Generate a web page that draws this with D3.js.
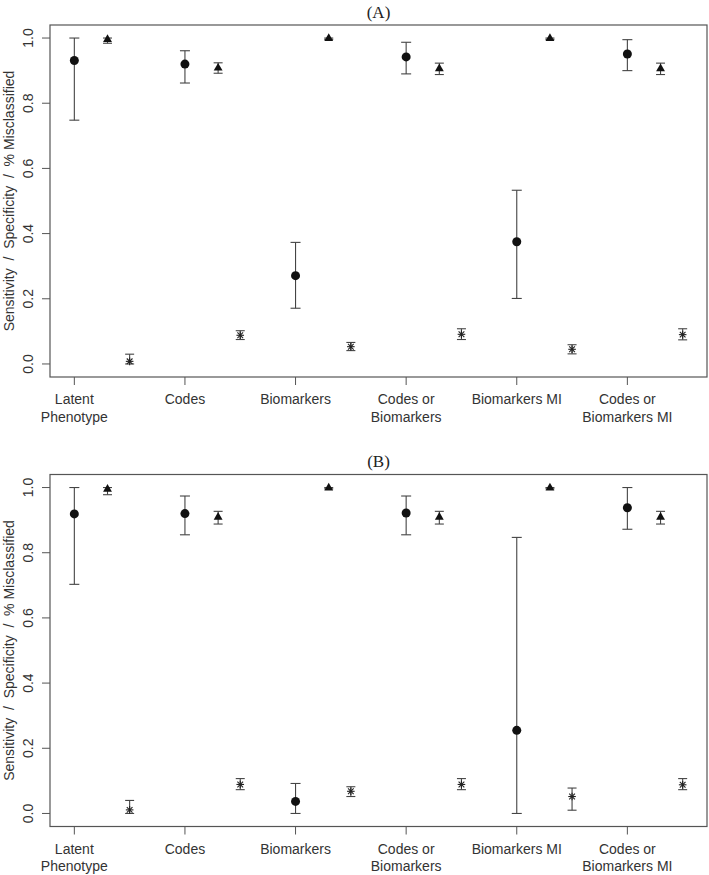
<!DOCTYPE html>
<html>
<head>
<meta charset="utf-8">
<script src="https://cdn.jsdelivr.net/npm/d3@7"></script>
<style>
  html, body { margin: 0; padding: 0; background: #fff; }
  svg { display: block; }
</style>
</head>
<body>
<div id="chart"></div>
<script>
// ---------- data ----------
const categories = [["Latent", "Phenotype"], ["Codes"], ["Biomarkers"], ["Codes or", "Biomarkers"], ["Biomarkers MI"], ["Codes or", "Biomarkers MI"]];
const yTicks = [0.0, 0.2, 0.4, 0.6, 0.8, 1.0];
const panelTitles = ["(A)", "(B)"];

// Panel A
const sensA   = [0.931, 0.920, 0.271, 0.942, 0.375, 0.951];
const sensLoA = [0.748, 0.862, 0.171, 0.890, 0.201, 0.900];
const sensHiA = [1.000, 0.961, 0.373, 0.987, 0.533, 0.995];
const specA   = [0.996, 0.908, 0.999, 0.906, 0.999, 0.906];
const specLoA = [0.984, 0.892, 0.996, 0.888, 0.996, 0.888];
const specHiA = [1.000, 0.924, 1.000, 0.923, 1.000, 0.923];
const miscA   = [0.008, 0.088, 0.053, 0.091, 0.045, 0.090];
const miscLoA = [0.000, 0.075, 0.041, 0.075, 0.031, 0.074];
const miscHiA = [0.030, 0.102, 0.066, 0.108, 0.059, 0.108];

// Panel B
const sensB   = [0.919, 0.920, 0.037, 0.922, 0.255, 0.938];
const sensLoB = [0.703, 0.855, 0.000, 0.855, 0.000, 0.872];
const sensHiB = [1.000, 0.974, 0.092, 0.974, 0.847, 1.000];
const specB   = [0.995, 0.909, 0.999, 0.909, 0.999, 0.909];
const specLoB = [0.978, 0.888, 0.996, 0.888, 0.996, 0.888];
const specHiB = [1.000, 0.927, 1.000, 0.927, 1.000, 0.927];
const miscB   = [0.011, 0.089, 0.068, 0.089, 0.052, 0.088];
const miscLoB = [0.000, 0.073, 0.052, 0.073, 0.010, 0.073];
const miscHiB = [0.040, 0.107, 0.082, 0.107, 0.078, 0.107];

// ---------- drawing ----------
const W = 709, H = 875;
const svg = d3.select("#chart").append("svg").attr("width", W).attr("height", H);

const left = 50, right = 707;
const x = d3.scaleLinear().domain([0.78, 6.72]).range([left, right]);
const axisColor = "#555";
const barColor = "#444";
const sansFont = "'Liberation Sans', Arial, Helvetica, sans-serif";

function series(v, lo, hi) { return v.map((d, i) => ({ i, v: d, lo: lo[i], hi: hi[i] })); }

const panels = [
  { top: 25, bottom: 377, title: panelTitles[0],
    sens: series(sensA, sensLoA, sensHiA), spec: series(specA, specLoA, specHiA), misc: series(miscA, miscLoA, miscHiA) },
  { top: 474.5, bottom: 826.5, title: panelTitles[1],
    sens: series(sensB, sensLoB, sensHiB), spec: series(specB, specLoB, specHiB), misc: series(miscB, miscLoB, miscHiB) }
];

panels.forEach(p => {
  const y = d3.scaleLinear().domain([-0.04, 1.04]).range([p.bottom, p.top]);
  const g = svg.append("g");

  // box
  g.append("rect").attr("x", left).attr("y", p.top)
    .attr("width", right - left).attr("height", p.bottom - p.top)
    .attr("fill", "none").attr("stroke", axisColor).attr("stroke-width", 1.2);

  // title
  g.append("text").attr("x", (left + right) / 2).attr("y", p.top - 13)
    .attr("text-anchor", "middle").attr("dominant-baseline", "central")
    .attr("font-family", "'Liberation Serif', 'Times New Roman', serif")
    .attr("font-size", 17).attr("fill", "#222").text(p.title);

  // y axis ticks & labels
  const yAxis = g.append("g");
  yAxis.selectAll("line").data(yTicks).join("line")
    .attr("x1", left - 8).attr("x2", left)
    .attr("y1", d => y(d)).attr("y2", d => y(d))
    .attr("stroke", axisColor).attr("stroke-width", 1);
  yAxis.selectAll("text").data(yTicks).join("text")
    .attr("transform", d => `translate(28,${y(d)}) rotate(-90)`)
    .attr("text-anchor", "middle").attr("dominant-baseline", "central")
    .attr("font-family", sansFont).attr("font-size", 14).attr("fill", "#333")
    .text(d => d3.format(".1f")(d));

  // y label
  g.append("text")
    .attr("transform", `translate(9,${(p.top + p.bottom) / 2}) rotate(-90)`)
    .attr("text-anchor", "middle").attr("dominant-baseline", "central")
    .attr("font-family", sansFont).attr("font-size", 14).attr("fill", "#333")
    .attr("xml:space", "preserve")
    .text("Sensitivity  /  Specificity  /  % Misclassified");

  // x axis ticks & labels
  const xAxis = g.append("g");
  xAxis.selectAll("line").data(categories).join("line")
    .attr("x1", (d, i) => x(i + 1)).attr("x2", (d, i) => x(i + 1))
    .attr("y1", p.bottom).attr("y2", p.bottom + 8)
    .attr("stroke", axisColor).attr("stroke-width", 1);
  const labels = xAxis.selectAll("text").data(categories).join("text")
    .attr("text-anchor", "middle")
    .attr("font-family", sansFont).attr("font-size", 14).attr("fill", "#333");
  labels.each(function(d, i) {
    const t = d3.select(this);
    d.forEach((line, k) => {
      t.append("tspan").attr("x", x(i + 1)).attr("y", p.bottom + 27 + k * 17.5).text(line);
    });
  });

  // error bars helper
  function errBars(data, off, capHalf) {
    const eg = g.append("g").attr("stroke", barColor).attr("stroke-width", 1.1);
    eg.selectAll(".v").data(data).join("line")
      .attr("x1", d => x(d.i + 1 + off)).attr("x2", d => x(d.i + 1 + off))
      .attr("y1", d => y(d.lo)).attr("y2", d => y(d.hi));
    eg.selectAll(".lo").data(data).join("line")
      .attr("x1", d => x(d.i + 1 + off) - capHalf).attr("x2", d => x(d.i + 1 + off) + capHalf)
      .attr("y1", d => y(d.lo)).attr("y2", d => y(d.lo));
    eg.selectAll(".hi").data(data).join("line")
      .attr("x1", d => x(d.i + 1 + off) - capHalf).attr("x2", d => x(d.i + 1 + off) + capHalf)
      .attr("y1", d => y(d.hi)).attr("y2", d => y(d.hi));
  }

  // sensitivity: circles
  errBars(p.sens, 0, 5);
  g.append("g").selectAll("circle").data(p.sens).join("circle")
    .attr("cx", d => x(d.i + 1)).attr("cy", d => y(d.v)).attr("r", 4.5)
    .attr("fill", "#111");

  // specificity: triangles
  errBars(p.spec, 0.3, 4.5);
  g.append("g").selectAll("path").data(p.spec).join("path")
    .attr("transform", d => `translate(${x(d.i + 1.3)},${y(d.v)})`)
    .attr("d", d3.symbol(d3.symbolTriangle, 34)())
    .attr("fill", "#111");

  // misclassified: asterisks
  errBars(p.misc, 0.5, 4.5);
  const sg = g.append("g").attr("stroke", "#222").attr("stroke-width", 1.1);
  p.misc.forEach(d => {
    const cx = x(d.i + 1.5), cy = y(d.v), r = 3.8, rd = 3.8 * 0.75;
    sg.append("line").attr("x1", cx - r).attr("x2", cx + r).attr("y1", cy).attr("y2", cy);
    sg.append("line").attr("x1", cx).attr("x2", cx).attr("y1", cy - r).attr("y2", cy + r);
    sg.append("line").attr("x1", cx - rd).attr("x2", cx + rd).attr("y1", cy - rd).attr("y2", cy + rd);
    sg.append("line").attr("x1", cx - rd).attr("x2", cx + rd).attr("y1", cy + rd).attr("y2", cy - rd);
  });
});
</script>
</body>
</html>
